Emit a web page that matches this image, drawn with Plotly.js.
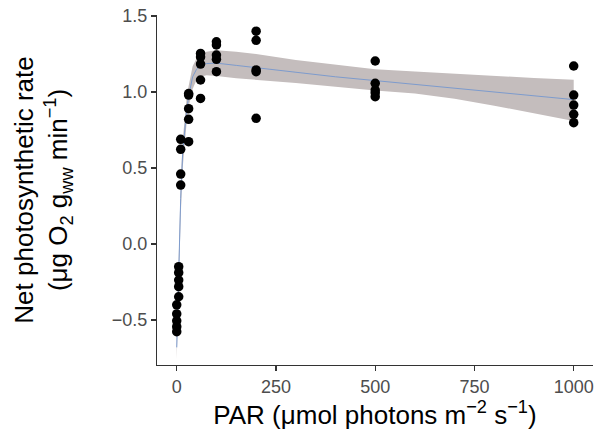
<!DOCTYPE html>
<html>
<head>
<meta charset="utf-8">
<script src="https://cdn.plot.ly/plotly-3.0.1.min.js"></script>
<style>html,body{margin:0;padding:0;background:#fff;}#chart{width:604px;height:437px;}</style>
</head>
<body>
<div id="chart"></div>
<script>
// Observed data (PAR, net photosynthetic rate)
const obsPAR = [0,0,0,0,0, 5,5,5,5,5, 10,10,10,10, 30,30,30,30,30, 60,60,60,60,60, 100,100,100,100,100, 200,200,200,200,200, 500,500,500,500,500, 1000,1000,1000,1000,1000];
const obsRate = [-0.40,-0.46,-0.505,-0.544,-0.577, -0.149,-0.189,-0.237,-0.281,-0.347, 0.689,0.623,0.46,0.388, 0.99,0.98,0.89,0.82,0.673, 1.254,1.23,1.184,1.079,0.958, 1.33,1.31,1.243,1.215,1.134, 1.40,1.34,1.145,1.134,0.827, 1.204,1.057,1.013,0.995,0.969, 1.171,0.980,0.914,0.853,0.798];

// Fitted curve and confidence band
const fitPAR   = [0, 5, 10, 15, 20, 25, 30, 40, 50, 60, 75, 100, 150, 200, 300, 400, 500, 600, 700, 800, 900, 1000];
const fitRate  = [-0.68, -0.15, 0.30, 0.60, 0.76, 0.88, 0.97, 1.10, 1.15, 1.175, 1.187, 1.19, 1.175, 1.16, 1.13, 1.10, 1.075, 1.05, 1.025, 1.0, 0.975, 0.95];
const fitUpper = [-0.60, -0.05, 0.40, 0.68, 0.85, 0.96, 1.04, 1.17, 1.22, 1.25, 1.265, 1.275, 1.265, 1.25, 1.21, 1.18, 1.15, 1.135, 1.12, 1.105, 1.092, 1.08];
const fitLower = [-0.76, -0.25, 0.18, 0.50, 0.68, 0.80, 0.90, 1.02, 1.08, 1.10, 1.11, 1.105, 1.09, 1.08, 1.06, 1.035, 1.01, 0.99, 0.955, 0.91, 0.86, 0.81];

const xTicks = [0, 250, 500, 750, 1000];
const yTicks = [-0.5, 0.0, 0.5, 1.0, 1.5];
const yTickText = ['\u22120.5', '0.0', '0.5', '1.0', '1.5'];

const traces = [
  {x: fitPAR, y: fitLower, type: 'scatter', mode: 'lines', line: {width: 0, color: 'rgba(0,0,0,0)'}, hoverinfo: 'skip', showlegend: false},
  {x: fitPAR, y: fitUpper, type: 'scatter', mode: 'lines', fill: 'tonexty', fillcolor: 'rgb(196,189,189)', line: {width: 0, color: 'rgba(0,0,0,0)'}, hoverinfo: 'skip', showlegend: false},
  {x: fitPAR, y: fitRate, type: 'scatter', mode: 'lines', line: {width: 1, color: 'rgb(125,155,205)'}, showlegend: false},
  {x: obsPAR, y: obsRate, type: 'scatter', mode: 'markers', marker: {size: 9.5, color: '#000'}, showlegend: false}
];

const fontFam = '"Liberation Sans", Arial, Helvetica, sans-serif';
const layout = {
  width: 604, height: 437,
  margin: {l: 157, r: 11, t: 15, b: 72},
  paper_bgcolor: '#fff', plot_bgcolor: '#fff',
  font: {family: fontFam, color: '#000'},
  xaxis: {
    range: [-49.7, 1048.6], tickmode: 'array', tickvals: xTicks, ticktext: xTicks.map(String),
    showgrid: false, zeroline: false, showline: true, linecolor: '#333', linewidth: 1.1,
    ticks: 'outside', ticklen: 5, tickwidth: 1.1, tickcolor: '#333',
    tickfont: {size: 18, color: '#4d4d4d', family: fontFam},
    title: {text: 'PAR (\u03bcmol photons m<sup>\u22122</sup> s<sup>\u22121</sup>)', font: {size: 26, color: '#000', family: fontFam}, standoff: 4}
  },
  yaxis: {
    range: [-0.796, 1.5066], tickmode: 'array', tickvals: yTicks, ticktext: yTickText,
    showgrid: false, zeroline: false, showline: true, linecolor: '#333', linewidth: 1.1,
    ticks: 'outside', ticklen: 5, tickwidth: 1.1, tickcolor: '#333',
    tickfont: {size: 18, color: '#4d4d4d', family: fontFam},
    title: {text: 'Net photosynthetic rate<br>(\u03bcg O<sub>2</sub> g<sub>ww</sub> min<sup>\u22121</sup>)', font: {size: 26, color: '#000', family: fontFam}, standoff: 36}
  }
};

Plotly.newPlot('chart', traces, layout, {displayModeBar: false, staticPlot: true});
</script>
</body>
</html>
